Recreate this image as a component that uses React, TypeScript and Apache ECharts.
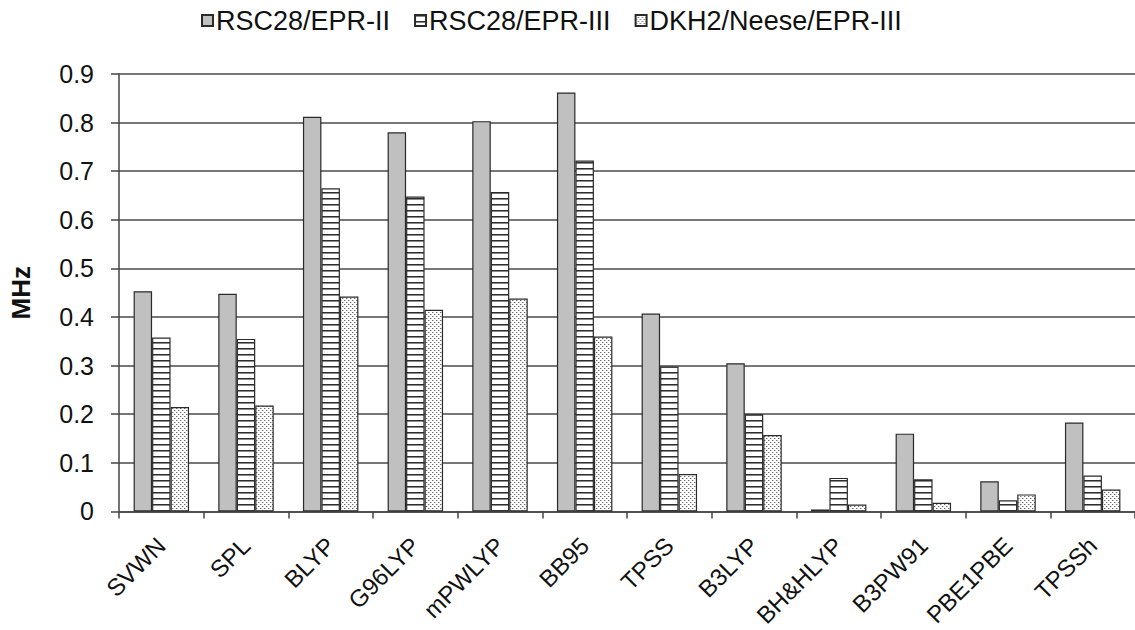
import React, { useEffect, useRef } from "react";
import * as echarts from "echarts";

const categories = ["SVWN", "SPL", "BLYP", "G96LYP", "mPWLYP", "BB95", "TPSS", "B3LYP", "BH&HLYP", "B3PW91", "PBE1PBE", "TPSSh"];
const seriesNames = ["RSC28/EPR-II", "RSC28/EPR-III", "DKH2/Neese/EPR-III"];
const rscEprII = [0.453, 0.448, 0.812, 0.780, 0.803, 0.862, 0.407, 0.305, 0.004, 0.160, 0.062, 0.183];
const rscEprIII = [0.358, 0.355, 0.665, 0.648, 0.657, 0.722, 0.298, 0.200, 0.069, 0.066, 0.023, 0.074];
const dkhNeese = [0.215, 0.218, 0.442, 0.415, 0.438, 0.360, 0.077, 0.157, 0.014, 0.018, 0.035, 0.045];
const yTicks = [0, 0.1, 0.2, 0.3, 0.4, 0.5, 0.6, 0.7, 0.8, 0.9];

function makeHatch(): HTMLCanvasElement {
  const c = document.createElement("canvas");
  c.width = 6;
  c.height = 6;
  const ctx = c.getContext("2d")!;
  ctx.fillStyle = "#ffffff";
  ctx.fillRect(0, 0, 6, 6);
  ctx.fillStyle = "#2e2e2e";
  ctx.fillRect(0, 0, 6, 1);
  ctx.fillStyle = "#8a8a8a";
  ctx.fillRect(0, 1, 6, 1);
  return c;
}

function makeDots(): HTMLCanvasElement {
  const c = document.createElement("canvas");
  c.width = 4;
  c.height = 4;
  const ctx = c.getContext("2d")!;
  ctx.fillStyle = "#ffffff";
  ctx.fillRect(0, 0, 4, 4);
  ctx.fillStyle = "#6a6a6a";
  ctx.fillRect(0, 0, 1, 1);
  ctx.fillRect(2, 2, 1, 1);
  ctx.fillStyle = "#c8c8c8";
  ctx.fillRect(1, 0, 1, 1);
  ctx.fillRect(3, 2, 1, 1);
  return c;
}

export default function App() {
  const ref = useRef<HTMLDivElement>(null);
  useEffect(() => {
    document.body.style.margin = "0";
    if (!ref.current) return;
    const chart = echarts.init(ref.current, undefined, { renderer: "svg" });
    const font = "'Liberation Sans', Arial, sans-serif";
    const border = { borderColor: "#2a2a2a", borderWidth: 1.2 };
    const fills: any[] = [
      "#c0c0c0",
      { image: makeHatch(), repeat: "repeat" },
      { image: makeDots(), repeat: "repeat" },
    ];
    const datas = [rscEprII, rscEprIII, dkhNeese];
    chart.setOption({
      animation: false,
      backgroundColor: "#ffffff",
      textStyle: { fontFamily: font },
      legend: {
        top: 2,
        left: 196,
        itemWidth: 11,
        itemHeight: 11,
        itemGap: 24,
        icon: "rect",
        textStyle: { fontSize: 27, color: "#111", fontFamily: font, padding: [0, 0, 0, -2] },
        data: seriesNames,
      },
      grid: { left: 118, right: -10, top: 74, bottom: 118, containLabel: false },
      xAxis: {
        type: "category",
        data: categories,
        axisLine: { lineStyle: { color: "#444", width: 1.5 } },
        axisTick: { show: true, length: 7, interval: 0, lineStyle: { color: "#444", width: 1.5 } },
        axisLabel: { rotate: 45, interval: 0, fontSize: 24, color: "#111", margin: 30, fontFamily: font },
      },
      yAxis: {
        type: "value",
        min: 0,
        max: 0.9,
        interval: 0.1,
        name: "MHz",
        nameLocation: "middle",
        nameGap: 85,
        nameTextStyle: { fontSize: 26, fontWeight: "bold", color: "#111", fontFamily: font },
        axisLine: { show: true, lineStyle: { color: "#444", width: 1.5 } },
        axisTick: { show: true, inside: false, length: 8, lineStyle: { color: "#444", width: 1.5 } },
        axisLabel: {
          fontSize: 25,
          color: "#111",
          margin: 25,
          fontFamily: font,
          formatter: (v: number) => {
            const t = yTicks.find((x) => Math.abs(x - v) < 1e-6);
            return t === undefined ? "" : t === 0 ? "0" : String(Math.round(t * 10) / 10);
          },
        },
        splitLine: { show: true, lineStyle: { color: "#4a4a4a", width: 1.5 } },
      },
      series: seriesNames.map((name, i) => ({
        name,
        type: "bar",
        data: datas[i],
        barGap: "0%",
        barCategoryGap: "34.5%",
        itemStyle: { color: fills[i], ...border },
      })),
    });
    return () => chart.dispose();
  }, []);
  return <div ref={ref} style={{ width: 1135, height: 630 }} />;
}
